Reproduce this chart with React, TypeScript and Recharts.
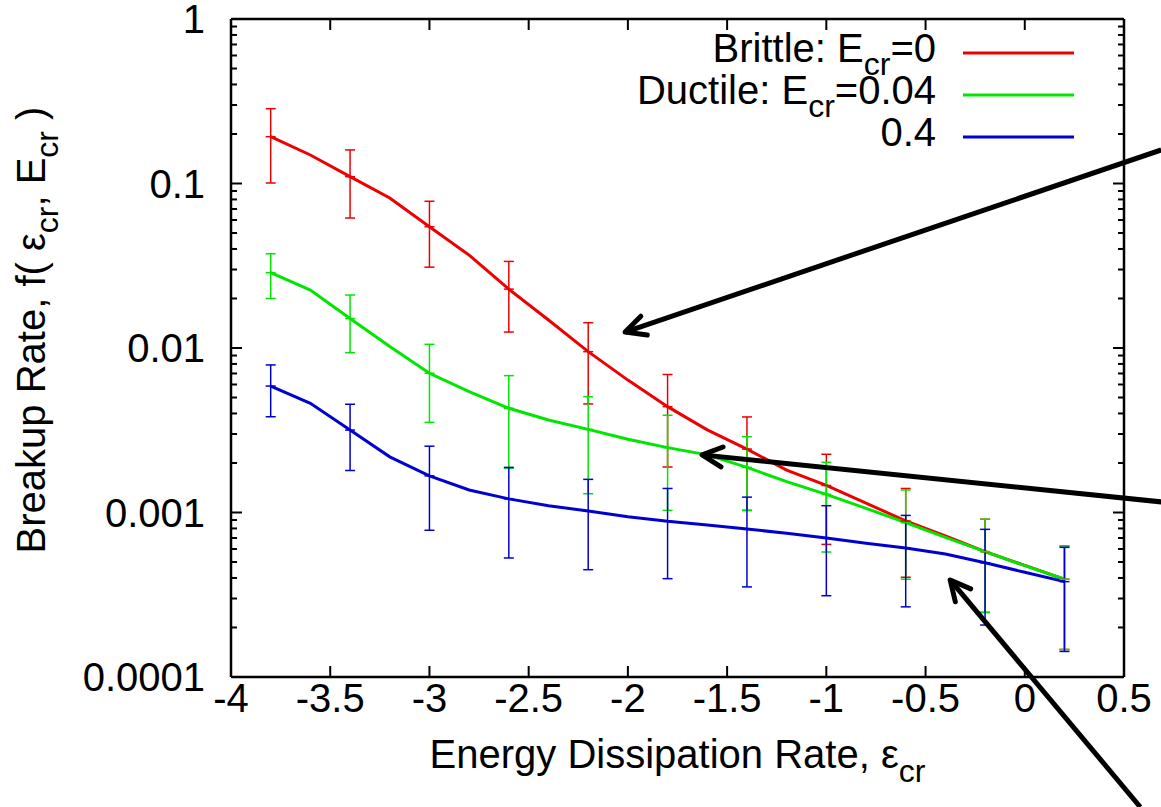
import React from 'react';
import { ComposedChart, Line, XAxis, YAxis, ErrorBar, ReferenceLine, Legend } from 'recharts';

const FONT = '"Liberation Sans", Arial, Helvetica, sans-serif';

// energy dissipation rate (log scale) sample points
const xValues = [-3.8, -3.6, -3.4, -3.2, -3.0, -2.8, -2.6, -2.4, -2.2, -2.0, -1.8, -1.6, -1.4, -1.2, -1.0, -0.8, -0.6, -0.4, -0.2, 0.0, 0.2];

// breakup rate, one value per x
const rate0 = [0.1925, 0.149, 0.11, 0.0816, 0.0546, 0.0367, 0.0228, 0.0148, 0.0095, 0.00638, 0.0044, 0.00318, 0.00243, 0.00181, 0.00146, 0.00114, 0.000888, 0.00072, 0.000578, 0.000477, 0.000393];
const rate004 = [0.0287, 0.0225, 0.0151, 0.0102, 0.00702, 0.00543, 0.0043, 0.00365, 0.0032, 0.00279, 0.00248, 0.00224, 0.00188, 0.00154, 0.00129, 0.00106, 0.000867, 0.000706, 0.000578, 0.000475, 0.000393];
const rate04 = [0.00587, 0.00461, 0.00317, 0.00218, 0.00167, 0.00137, 0.00121, 0.0011, 0.00102, 0.000943, 0.000884, 0.00084, 0.000794, 0.000747, 0.0007, 0.00065, 0.000608, 0.00056, 0.000495, 0.000433, 0.00038];

// error bars only every other point
const errX = [-3.8, -3.4, -3.0, -2.6, -2.2, -1.8, -1.4, -1.0, -0.6, -0.2, 0.2];
const rate0Low = [0.1007, 0.0617, 0.031, 0.0125, 0.00457, 0.00189, 0.00103, 0.00064, 0.000404, 0.000247, 0.000147];
const rate0High = [0.285, 0.16, 0.078, 0.0336, 0.01425, 0.0069, 0.00381, 0.00226, 0.0014, 0.00091, 0.000625];
const rate004Low = [0.02, 0.00937, 0.00353, 0.00186, 0.0013, 0.00103, 0.00103, 0.000575, 0.000393, 0.000247, 0.000147];
const rate004High = [0.0374, 0.021, 0.01053, 0.00679, 0.00506, 0.0039, 0.00289, 0.00202, 0.00137, 0.00091, 0.000625];
const rate04Low = [0.00382, 0.0018, 0.00078, 0.000529, 0.000449, 0.000396, 0.000353, 0.000312, 0.000267, 0.000207, 0.000143];
const rate04High = [0.00789, 0.00455, 0.00253, 0.00188, 0.00159, 0.0014, 0.00124, 0.0011, 0.00096, 0.00079, 0.000614];

const xTicks = [-4, -3.5, -3, -2.5, -2, -1.5, -1, -0.5, 0, 0.5];
const xTickLabels = ['-4', '-3.5', '-3', '-2.5', '-2', '-1.5', '-1', '-0.5', '0', '0.5'];
const yMajorTicks = [0.0001, 0.001, 0.01, 0.1, 1];
const yTickLabels = ['0.0001', '0.001', '0.01', '0.1', '1'];
const yMinorSteps = [2, 3, 4, 5, 6, 7, 8, 9];
const yTicks = [
  ...yMajorTicks,
  ...yMajorTicks.slice(0, -1).flatMap(d => yMinorSteps.map(m => +(d * m).toPrecision(3))),
].sort((a, b) => a - b);

// annotation arrows, tail -> head, in data units
const arrowTails = [{ x: 0.6875, y: 0.16 }, { x: 0.6875, y: 0.00116 }, { x: 0.582, y: 0.0000162 }];
const arrowHeads = [{ x: -2.014, y: 0.0125 }, { x: -1.626, y: 0.00224 }, { x: -0.376, y: 0.000389 }];

const series = [
  { key: 'rate0', color: '#ee0000', values: rate0, low: rate0Low, high: rate0High, pre: 'Brittle: E', sub: 'cr', post: '=0' },
  { key: 'rate004', color: '#00e600', values: rate004, low: rate004Low, high: rate004High, pre: 'Ductile: E', sub: 'cr', post: '=0.04' },
  { key: 'rate04', color: '#0000d0', values: rate04, low: rate04Low, high: rate04High, pre: '0.4', sub: '', post: '' },
];

const rows = xValues.map((x, i) => {
  const row: Record<string, any> = { x };
  const j = errX.findIndex(e => Math.abs(e - x) < 1e-9);
  for (const s of series) {
    const v = s.values[i];
    row[s.key] = v;
    row[s.key + 'Err'] = j >= 0 ? [v - s.low[j], s.high[j] - v] : null;
  }
  return row;
});

const isMajor = (v: number) => yMajorTicks.findIndex(t => Math.abs(t - v) / t < 1e-6);

function LeftTick({ x, y, payload }: any) {
  const idx = isMajor(payload.value);
  return (
    <g>
      <line x1={x} y1={y} x2={x + (idx >= 0 ? 11 : 6)} y2={y} stroke="#000" strokeWidth={2} />
      {idx >= 0 && (
        <text x={x - 26} y={y} dy={14} textAnchor="end" fontSize={40} fontFamily={FONT} fill="#000">
          {yTickLabels[idx]}
        </text>
      )}
    </g>
  );
}

function RightTick({ x, y, payload }: any) {
  const idx = isMajor(payload.value);
  return <line x1={x} y1={y} x2={x - (idx >= 0 ? 11 : 6)} y2={y} stroke="#000" strokeWidth={2} />;
}

function BottomTick({ x, y, payload, index }: any) {
  return (
    <g>
      <line x1={x} y1={y} x2={x} y2={y - 11} stroke="#000" strokeWidth={2} />
      <text x={x} y={y + 35} textAnchor="middle" fontSize={40} fontFamily={FONT} fill="#000">
        {xTickLabels[index] ?? String(payload.value)}
      </text>
    </g>
  );
}

function TopTick({ x, y }: any) {
  return <line x1={x} y1={y} x2={x} y2={y + 11} stroke="#000" strokeWidth={2} />;
}

function YLabel({ viewBox }: any) {
  const cx = viewBox.x + 45;
  const cy = viewBox.y + viewBox.height / 2 - 18;
  return (
    <text x={cx} y={cy} transform={`rotate(-90 ${cx} ${cy})`} textAnchor="middle" fontSize={40} fontFamily={FONT} fill="#000">
      Breakup Rate, f( ε<tspan dy={13} fontSize={32}>cr</tspan>
      <tspan dy={-13}>, E</tspan>
      <tspan dy={13} fontSize={32}>cr</tspan>
      <tspan dy={-13}> )</tspan>
    </text>
  );
}

function XLabel({ viewBox }: any) {
  const cx = viewBox.x + viewBox.width / 2;
  const cy = viewBox.y + 91;
  return (
    <text x={cx} y={cy} textAnchor="middle" fontSize={40} fontFamily={FONT} fill="#000">
      Energy Dissipation Rate, ε<tspan dy={14} fontSize={32}>cr</tspan>
    </text>
  );
}

function LegendBox() {
  return (
    <svg width={1161} height={170} style={{ display: 'block' }}>
      {series.map((s, i) => (
        <g key={s.key}>
          <text x={936} y={62 + i * 42} textAnchor="end" fontSize={40} fontFamily={FONT} fill="#000">
            {s.pre}
            {s.sub && <tspan dy={13} fontSize={32}>{s.sub}</tspan>}
            {s.post && <tspan dy={-13}>{s.post}</tspan>}
          </text>
          <line x1={963} x2={1074} y1={53 + i * 42} y2={53 + i * 42} stroke={s.color} strokeWidth={3} />
        </g>
      ))}
    </svg>
  );
}

function makeDot(s: (typeof series)[number]) {
  return (p: any) => {
    const k = `${s.key}-dot-${p.index}`;
    if (p.payload?.[s.key + 'Err'] == null || p.cx == null) return <g key={k} />;
    return <line key={k} x1={p.cx - 5} x2={p.cx + 5} y1={p.cy} y2={p.cy} stroke={s.color} strokeWidth={1.5} />;
  };
}

export default function App() {
  return (
    <div style={{ position: 'absolute', left: 0, top: 0, background: '#fff' }}>
      <ComposedChart width={1161} height={807} data={rows} margin={{ top: 18, right: 36, bottom: 0, left: 0 }}>
        <defs>
          <marker id="arrowHead" viewBox="-30 -20 40 40" refX={0} refY={0} markerWidth={40} markerHeight={40} markerUnits="userSpaceOnUse" orient="auto">
            <path d="M -20 -10 L 0 0 L -20 10" fill="none" stroke="#000" strokeWidth={5} strokeLinejoin="round" strokeLinecap="round" />
          </marker>
        </defs>
        <XAxis
          xAxisId="b"
          dataKey="x"
          type="number"
          domain={[-4, 0.5]}
          allowDataOverflow
          ticks={xTicks}
          interval={0}
          height={130}
          tickSize={0}
          tickMargin={0}
          tickLine={false}
          axisLine={{ stroke: '#000', strokeWidth: 2.5 }}
          tick={<BottomTick />}
          label={{ content: XLabel }}
        />
        <XAxis
          xAxisId="t"
          dataKey="x"
          orientation="top"
          type="number"
          domain={[-4, 0.5]}
          allowDataOverflow
          ticks={xTicks}
          interval={0}
          height={1}
          tickSize={0}
          tickMargin={0}
          tickLine={false}
          axisLine={{ stroke: '#000', strokeWidth: 2.5 }}
          tick={<TopTick />}
        />
        <YAxis
          yAxisId="l"
          scale="log"
          domain={[0.0001, 1]}
          allowDataOverflow
          ticks={yTicks}
          interval={0}
          width={231}
          tickSize={0}
          tickMargin={0}
          tickLine={false}
          axisLine={{ stroke: '#000', strokeWidth: 2.5 }}
          tick={<LeftTick />}
          label={{ content: YLabel }}
        />
        <YAxis
          yAxisId="r"
          orientation="right"
          scale="log"
          domain={[0.0001, 1]}
          allowDataOverflow
          ticks={yTicks}
          interval={0}
          width={1}
          tickSize={0}
          tickMargin={0}
          tickLine={false}
          axisLine={{ stroke: '#000', strokeWidth: 2.5 }}
          tick={<RightTick />}
        />
        <Legend
          layout="horizontal"
          align="center"
          verticalAlign="middle"
          wrapperStyle={{ position: 'absolute', left: 0, top: 0, width: 1161, height: 170, pointerEvents: 'none' }}
          content={() => <LegendBox />}
        />
        {/* invisible series that ties the mirror axes to the data */}
        <Line
          xAxisId="t"
          yAxisId="r"
          dataKey="rate0"
          stroke="none"
          dot={false}
          activeDot={false}
          legendType="none"
          isAnimationActive={false}
        />
        {series.map(s => (
          <Line
            key={s.key}
            xAxisId="b"
            yAxisId="l"
            type="linear"
            dataKey={s.key}
            stroke={s.color}
            strokeWidth={3}
            dot={makeDot(s)}
            activeDot={false}
            isAnimationActive={false}
          >
            <ErrorBar dataKey={s.key + 'Err'} direction="y" width={5} stroke={s.color} strokeWidth={1.5} isAnimationActive={false} />
          </Line>
        ))}
        {arrowTails.map((t, i) => (
          <ReferenceLine
            key={`arrow-${i}`}
            xAxisId="b"
            yAxisId="l"
            ifOverflow="visible"
            segment={[t, arrowHeads[i]]}
            stroke="#000"
            strokeWidth={5}
            markerEnd="url(#arrowHead)"
          />
        ))}
      </ComposedChart>
    </div>
  );
}
